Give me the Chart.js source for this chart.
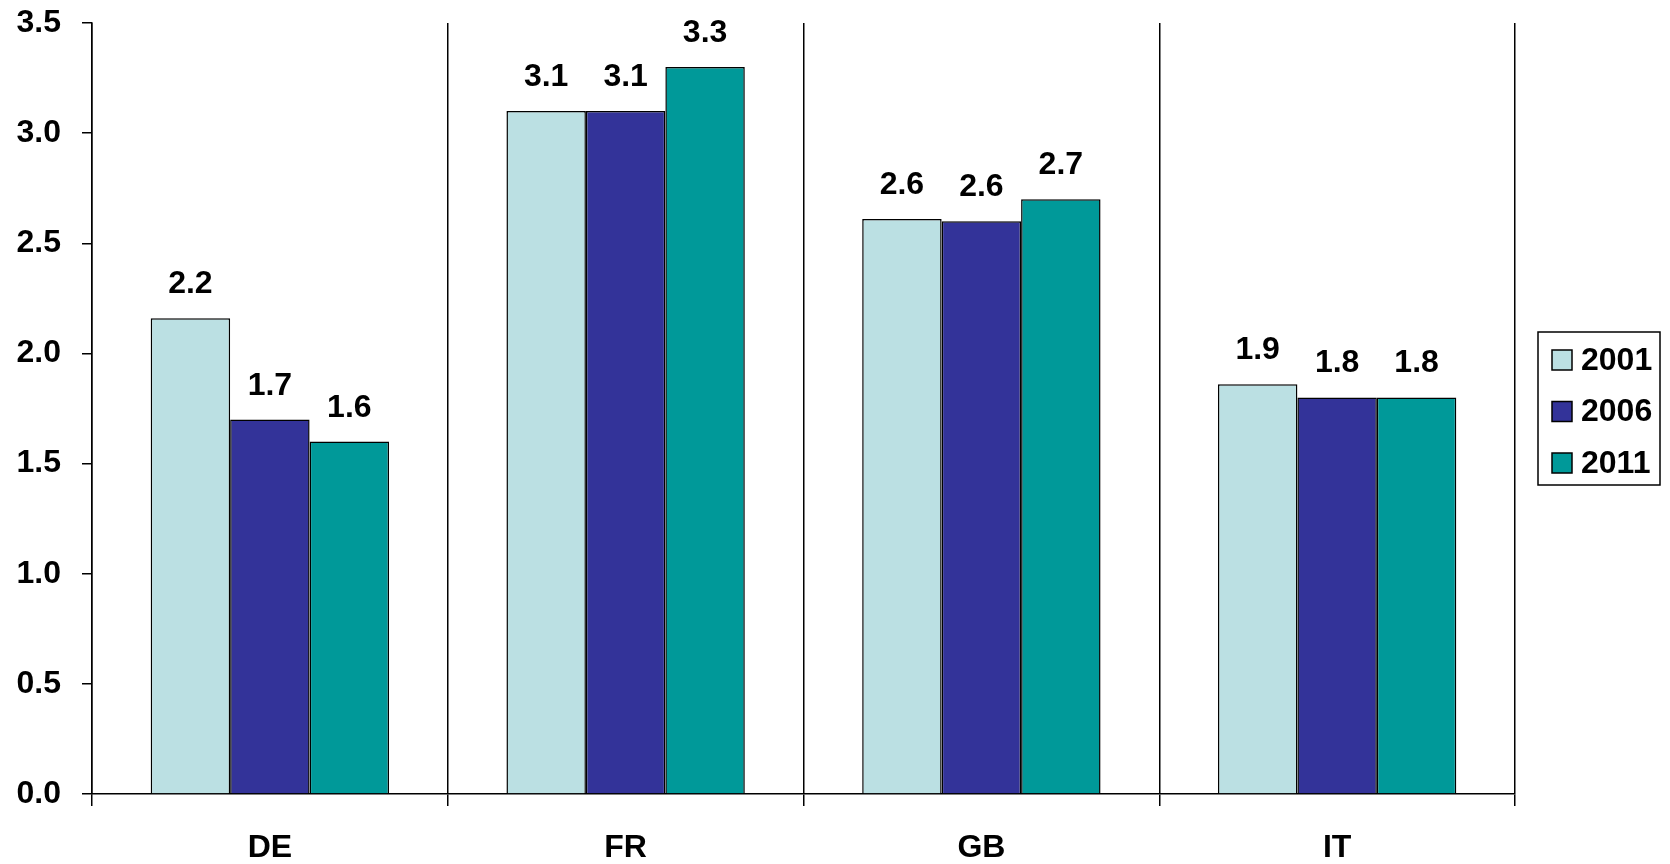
<!DOCTYPE html>
<html>
<head>
<meta charset="utf-8">
<script src="https://cdn.jsdelivr.net/npm/chart.js@4/dist/chart.umd.min.js"></script>
<style>
  html, body { margin: 0; padding: 0; background: #fff; }
  #wrap { width: 1670px; height: 864px; }
</style>
</head>
<body>
<div id="wrap"><canvas id="myChart" width="1670" height="864"></canvas></div>
<script>
// data
const paises = ['DE', 'FR', 'GB', 'IT'];
const anios = ['2001', '2006', '2011'];
const valores2001 = [2.16, 3.1, 2.61, 1.86];
const valores2006 = [1.7, 3.1, 2.6, 1.8];
const valores2011 = [1.6, 3.3, 2.7, 1.8];
const colores = ['#BBE0E3', '#333399', '#009999'];

const fuente = 'Liberation Sans, Arial, sans-serif';

// etiquetas encima de cada barra
const etiquetas = {
  id: 'etiquetas',
  afterDatasetsDraw(chart) {
    const c = chart.ctx;
    c.save();
    c.font = 'bold 32px ' + fuente;
    c.fillStyle = '#000';
    c.textAlign = 'center';
    c.textBaseline = 'alphabetic';
    chart.data.datasets.forEach((ds, i) => {
      chart.getDatasetMeta(i).data.forEach((bar, j) => {
        c.fillText(ds.data[j].toFixed(1), bar.x, bar.y - 25);
      });
    });
    c.restore();
  }
};

// leyenda con marco, a la derecha del area del grafico
const leyenda = {
  id: 'leyenda',
  afterDraw(chart) {
    const area = chart.chartArea;
    const c = chart.ctx;
    const x0 = area.right + 23;
    const ancho = 122;
    const alto = 153;
    const y0 = (area.top + area.bottom) / 2 - alto / 2;
    const paso = 51.5;
    c.save();
    c.strokeStyle = '#000';
    c.lineWidth = 1.5;
    c.strokeRect(x0, y0, ancho, alto);
    c.font = 'bold 32px ' + fuente;
    c.textAlign = 'left';
    c.textBaseline = 'middle';
    chart.data.datasets.forEach((ds, i) => {
      const cy = y0 + 28 + i * paso;
      c.fillStyle = ds.backgroundColor;
      c.fillRect(x0 + 14, cy - 10, 20, 20);
      c.strokeRect(x0 + 14, cy - 10, 20, 20);
      c.fillStyle = '#000';
      c.fillText(ds.label, x0 + 43, cy + 1);
    });
    c.restore();
  }
};

const ctx = document.getElementById('myChart').getContext('2d');
new Chart(ctx, {
  type: 'bar',
  data: {
    labels: paises,
    datasets: [
      { label: anios[0], data: valores2001, backgroundColor: colores[0] },
      { label: anios[1], data: valores2006, backgroundColor: colores[1] },
      { label: anios[2], data: valores2011, backgroundColor: colores[2] }
    ].map(d => Object.assign(d, { borderColor: '#000', borderWidth: 1.5 }))
  },
  options: {
    responsive: false,
    animation: false,
    devicePixelRatio: 1,
    categoryPercentage: 0.67,
    barPercentage: 1,
    layout: { padding: { top: 23, right: 155, left: 0, bottom: 0 } },
    plugins: {
      tooltip: { enabled: false },
      legend: { display: false }
    },
    scales: {
      x: {
        afterFit(scale) { scale.height = 70; },
        grid: {
          offset: true,
          color: '#000',
          lineWidth: 1.5,
          tickLength: 12,
          drawOnChartArea: true
        },
        border: { display: true, color: '#000', width: 1.5 },
        ticks: {
          color: '#000',
          padding: 23,
          font: { family: fuente, size: 32, weight: 'bold' }
        }
      },
      y: {
        min: 0,
        max: 3.5,
        afterFit(scale) {
          scale.width = 92;
          scale.paddingTop = 0;
          scale.paddingBottom = 0;
        },
        grid: {
          drawOnChartArea: false,
          color: '#000',
          lineWidth: 1.5,
          tickLength: 10
        },
        border: { display: true, color: '#000', width: 1.5 },
        ticks: {
          stepSize: 0.5,
          color: '#000',
          padding: 21,
          font: { family: fuente, size: 32, weight: 'bold' },
          callback: v => v.toFixed(1)
        }
      }
    }
  },
  plugins: [etiquetas, leyenda]
});
</script>
</body>
</html>
